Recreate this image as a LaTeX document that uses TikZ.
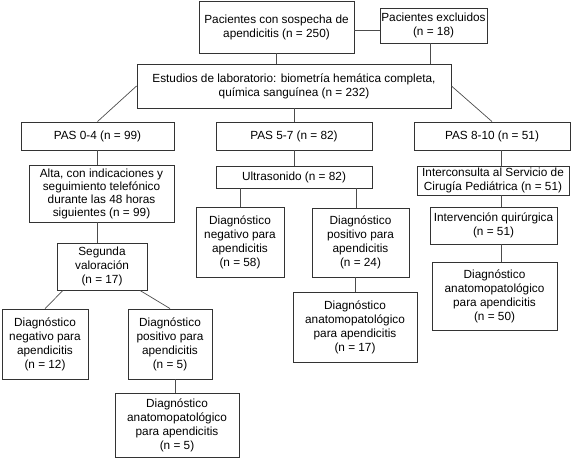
\documentclass[tikz,border=0pt]{standalone}
\usepackage{fontspec}
\setmainfont{Liberation Sans}
\begin{document}
\begin{tikzpicture}[x=1pt,y=-1pt,
  box/.style={draw=black!80, line width=0.9pt, align=center, inner sep=0pt,
    font=\fontsize{11.8}{14}\selectfont},
  tight/.style={font=\fontsize{11.8}{13}\selectfont},
  conn/.style={draw=black!70, line width=0.7pt}]
\useasboundingbox (0,0) rectangle (575,458);
% boxes (centre, width, height in px)
\node[box, minimum width=155pt, minimum height=52pt] (top) at (276.5,27) {Pacientes con sospecha de\\apendicitis (n = 250)};
\node[box, minimum width=107pt, minimum height=35pt] (excl) at (433.5,25.5) {Pacientes excluidos\\(n = 18)};
\node[box, minimum width=314pt, minimum height=44pt] (lab) at (294,86) {Estudios de laboratorio: biometría hemática completa,\\química sanguínea (n = 232)};
\node[box, minimum width=153pt, minimum height=28pt] (pas04) at (97.5,136) {PAS 0-4 (n = 99)};
\node[box, minimum width=156pt, minimum height=28pt] (pas57) at (294,136) {PAS 5-7 (n = 82)};
\node[box, minimum width=156pt, minimum height=28pt] (pas810) at (492,136) {PAS 8-10 (n = 51)};
\node[box, tight, minimum width=145pt, minimum height=57pt] (alta) at (101.5,193.5) {Alta, con indicaciones y\\seguimiento telefónico\\durante las 48 horas\\siguientes (n = 99)};
\node[box, minimum width=90pt, minimum height=47pt] (seg) at (102,266.5) {Segunda\\valoración\\(n = 17)};
\node[box, minimum width=86pt, minimum height=70pt] (neg12) at (45,344) {Diagnóstico\\negativo para\\apendicitis\\(n = 12)};
\node[box, minimum width=84pt, minimum height=70pt] (pos5) at (170,344) {Diagnóstico\\positivo para\\apendicitis\\(n = 5)};
\node[box, minimum width=124pt, minimum height=64pt] (anat5) at (177,425) {Diagnóstico\\anatomopatológico\\para apendicitis\\(n = 5)};
\node[box, minimum width=156pt, minimum height=22pt] (ultra) at (294,177) {Ultrasonido (n = 82)};
\node[box, minimum width=88pt, minimum height=70pt] (neg58) at (240,242) {Diagnóstico\\negativo para\\apendicitis\\(n = 58)};
\node[box, minimum width=97pt, minimum height=69pt] (pos24) at (360.5,242.5) {Diagnóstico\\positivo para\\apendicitis\\(n = 24)};
\node[box, minimum width=124pt, minimum height=70pt] (anat17) at (355,327) {Diagnóstico\\anatomopatológico\\para apendicitis\\(n = 17)};
\node[box, minimum width=152pt, minimum height=29pt] (inter) at (493,180.5) {Interconsulta al Servicio de\\Cirugía Pediátrica (n = 51)};
\node[box, minimum width=127pt, minimum height=37pt] (interv) at (493.5,225.5) {Intervención quirúrgica\\(n = 51)};
\node[box, minimum width=125pt, minimum height=68pt] (anat50) at (494.5,296) {Diagnóstico\\anatomopatológico\\para apendicitis\\(n = 50)};
\coordinate (rc) at (501,0);
% connectors
\draw[conn] ([yshift=-3pt]top.east) -- ([yshift=-3pt]top.east -| excl.west);
\draw[conn] (top.south) -- (top.south |- lab.north);
\draw[conn] ([xshift=-3pt]excl.south) -- ([xshift=-3pt]excl.south |- lab.north);
\draw[conn] (lab.west) -- (pas04.north);
\draw[conn] (lab.south -| pas57.north) -- (pas57.north);
\draw[conn] (lab.east) -- (pas810.north);
\draw[conn] (pas04.south) -- (pas04.south |- alta.north);
\draw[conn] (pas04.south |- alta.south) -- (pas04.south |- seg.north);
\draw[conn] ([xshift=-39pt]seg.south) -- (neg12.north);
\draw[conn] ([xshift=38pt]seg.south) -- (pos5.north);
\draw[conn] ([xshift=5pt]pos5.south) -- ([xshift=5pt]pos5.south |- anat5.north);
\draw[conn] (pas57.south) -- (ultra.north);
\draw[conn] (neg58.north |- ultra.south) -- (neg58.north);
\draw[conn] ([xshift=-4pt]pos24.north |- ultra.south) -- ([xshift=-4pt]pos24.north);
\draw[conn] (anat17.north |- pos24.south) -- (anat17.north);
\draw[conn] (rc |- pas810.south) -- (rc |- inter.north);
\draw[conn] (rc |- inter.south) -- (rc |- interv.north);
\draw[conn] (rc |- interv.south) -- (rc |- anat50.north);
\end{tikzpicture}
\end{document}
